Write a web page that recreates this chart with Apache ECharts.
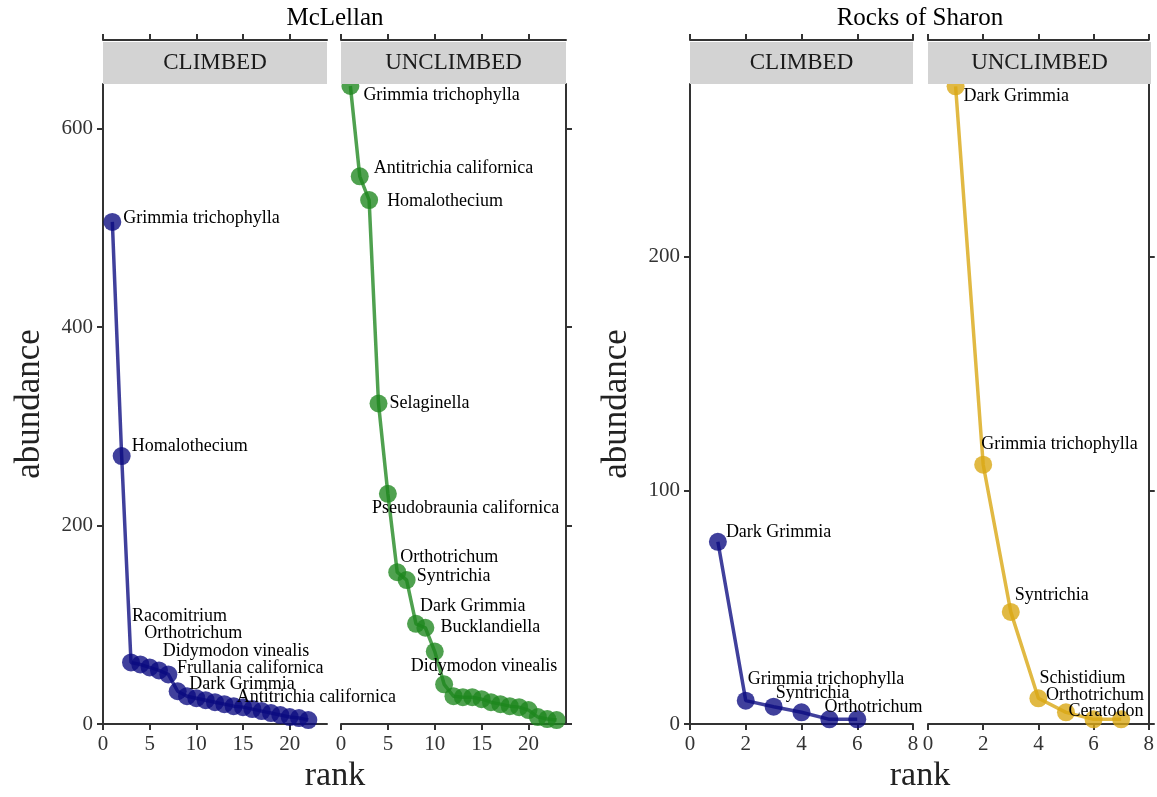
<!DOCTYPE html>
<html><head><meta charset="utf-8">
<script src="https://cdn.jsdelivr.net/npm/echarts@6/dist/echarts.min.js"></script>
<style>html,body{margin:0;padding:0;background:#fff}#c{width:1157px;height:797px}</style>
</head><body><div id="c"></div>
<script>
// ---------------- data ----------------
const siteNames = ["McLellan", "Rocks of Sharon"];
const facetNames = ["CLIMBED", "UNCLIMBED"];

const mcClimbedAbund = [506, 270, 62, 60, 57, 54, 50, 33, 28, 26, 24, 22, 20, 18, 17, 15, 13, 11, 9, 7, 6, 4];
const mcClimbedNames = ["Grimmia trichophylla", "Homalothecium", "Racomitrium", "Orthotrichum", "Didymodon vinealis", "Frullania californica", "Dark Grimmia", "Antitrichia californica"];

const mcUnclimbedAbund = [643, 552, 528, 323, 232, 153, 145, 101, 97, 73, 40, 28, 27, 27, 25, 22, 20, 18, 17, 14, 7, 5, 4];
const mcUnclimbedNames = ["Grimmia trichophylla", "Antitrichia californica", "Homalothecium", "Selaginella", "Pseudobraunia californica", "Orthotrichum", "Syntrichia", "Dark Grimmia", "Bucklandiella", "Didymodon vinealis"];

const rsClimbedAbund = [78, 10, 7.4, 5, 2, 2];
const rsClimbedNames = ["Dark Grimmia", "Grimmia trichophylla", "Syntrichia", "Orthotrichum"];

const rsUnclimbedAbund = [273, 111, 48, 11, 5, 2, 2];
const rsUnclimbedNames = ["Dark Grimmia", "Grimmia trichophylla", "Syntrichia", "Schistidium", "Orthotrichum", "Ceratodon"];

const mcYTicks = [0, 200, 400, 600];
const mcXTicks = [0, 5, 10, 15, 20];
const rsYTicks = [0, 100, 200];
const rsXTicks = [0, 2, 4, 6, 8];
const mcRange = {xMax: 24, yMax: 645};
const rsRange = {xMax: 8, yMax: 274};

// ---------------- layout / style ----------------
const FONT = "'Liberation Serif', 'DejaVu Serif', serif";
const AX = '#333';
const SYM = 18;
const labelOffsets = [
  [[11,-4],[10,-10],[1,-46],[4,-31],[13,-16],[18,-2],[21,10],[59,6]],
  [[13,9],[14,-8],[18,1],[11,0],[-16,14],[3,-15],[10,-4],[4,-18],[15,0],[-24,15]],
  [[8,-10],[2,-21],[2,-13],[23,-5]],
  [[8,10],[-2,-20],[4,-17],[1,-20],[-20,-17],[-25,-8]]
];
const NAVY = 'rgba(10,10,128,0.78)';
const panels = [
  {left:103, width:224, abund: mcClimbedAbund, names: mcClimbedNames, color:NAVY, range: mcRange, xt: mcXTicks, yt: mcYTicks, side:'left'},
  {left:341, width:225, abund: mcUnclimbedAbund, names: mcUnclimbedNames, color:'rgba(30,135,30,0.78)', range: mcRange, xt: mcXTicks, yt: mcYTicks, side:'right'},
  {left:690, width:223, abund: rsClimbedAbund, names: rsClimbedNames, color:NAVY, range: rsRange, xt: rsXTicks, yt: rsYTicks, side:'left'},
  {left:928, width:223, abund: rsUnclimbedAbund, names: rsUnclimbedNames, color:'rgba(218,168,20,0.8)', range: rsRange, xt: rsXTicks, yt: rsYTicks, side:'right'}
];
const TOP = 84, HEIGHT = 640;

const grid = [], xAxis = [], yAxis = [], series = [], graphic = [];
panels.forEach((p, i) => {
  grid.push({left: p.left, top: TOP, width: p.width, height: HEIGHT, containLabel: false});
  const lineStyle = {color: AX, width: 2};
  xAxis.push({type:'value', gridIndex:i, position:'bottom', min:0, max:p.range.xMax,
    axisLine:{show:true, onZero:false, lineStyle}, splitLine:{show:false},
    axisTick:{show:true, length:6, lineStyle, customValues:p.xt},
    axisLabel:{show:true, customValues:p.xt, margin:10, fontFamily:FONT, fontSize:21, color:'#333'}});
  xAxis.push({type:'value', gridIndex:i, position:'top', offset:44, min:0, max:p.range.xMax,
    axisLine:{show:true, onZero:false, lineStyle}, splitLine:{show:false},
    axisTick:{show:true, length:6, lineStyle, customValues:p.xt},
    axisLabel:{show:false}});
  yAxis.push({type:'value', gridIndex:i, position:p.side, min:0, max:p.range.yMax,
    axisLine:{show:true, onZero:false, lineStyle}, splitLine:{show:false},
    axisTick:{show:true, length:6, lineStyle, customValues:p.yt},
    axisLabel:{show:p.side === 'left', customValues:p.yt, margin:10, fontFamily:FONT, fontSize:21, color:'#333'}});
  const data = p.abund.map((v, k) => {
    const item = {value:[k + 1, v]};
    if (k < p.names.length) {
      const off = labelOffsets[i][k];
      item.label = {show:true, position:'right', distance:0, offset:[off[0] - SYM/2, off[1]],
        formatter: p.names[k], fontFamily:FONT, fontSize:18, color:'#000', opacity:1};
    }
    return item;
  });
  series.push({type:'line', xAxisIndex:2*i, yAxisIndex:i, data, symbol:'circle', symbolSize:SYM,
    showAllSymbol:true, clip:true,
    itemStyle:{color:p.color}, lineStyle:{color:p.color, width:3.5},
    label:{show:false}, emphasis:{disabled:true}, z:3});
  // facet strip
  graphic.push({type:'rect', z:100, shape:{x:p.left, y:42, width:p.width, height:TOP - 42}, style:{fill:'#d3d3d3'}});
  graphic.push({type:'text', z:101, x:p.left + p.width/2, y:63,
    style:{text:facetNames[i % 2], font:'23px ' + FONT, fill:'#1a1a1a', align:'center', verticalAlign:'middle', textAlign:'center', textVerticalAlign:'middle'}});
});

// site titles and axis titles
const siteCenters = [335, 920];
const yTitleX = [30, 617];
siteCenters.forEach((cx, s) => {
  graphic.push({type:'text', z:101, x:cx, y:18,
    style:{text:siteNames[s], font:'25px ' + FONT, fill:'#000', align:'center', verticalAlign:'middle', textAlign:'center', textVerticalAlign:'middle'}});
  graphic.push({type:'text', z:101, x:cx, y:776,
    style:{text:'rank', font:'34px ' + FONT, fill:'#222', align:'center', verticalAlign:'middle', textAlign:'center', textVerticalAlign:'middle'}});
  graphic.push({type:'text', z:101, x:yTitleX[s], y:404, rotation:Math.PI/2,
    style:{text:'abundance', font:'35px ' + FONT, fill:'#222', align:'center', verticalAlign:'middle', textAlign:'center', textVerticalAlign:'middle'}});
});

const chart = echarts.init(document.getElementById('c'), null, {renderer:'canvas'});
chart.setOption({animation:false, backgroundColor:'#fff', grid, xAxis, yAxis, series, graphic});
</script>
</body></html>
